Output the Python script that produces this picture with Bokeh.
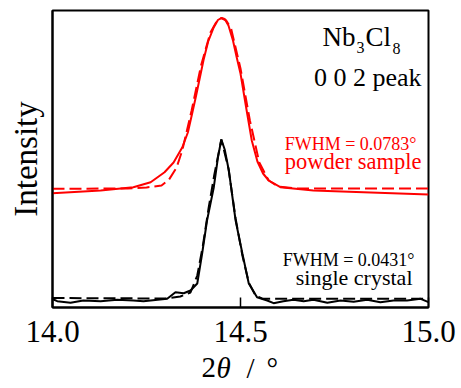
from bokeh.plotting import figure
from bokeh.models import Label, FixedTicker, PrintfTickFormatter, Range1d
from bokeh.layouts import column
from bokeh.core.properties import value
from bokeh.embed import file_html
from bokeh.resources import INLINE

# ---------------- data (2θ in degrees, intensity in arbitrary units) -------------
powder_tt = [14.000, 14.128, 14.215, 14.261, 14.298, 14.322, 14.345, 14.360, 14.372,
             14.382, 14.392, 14.402, 14.414, 14.429, 14.440, 14.449, 14.458, 14.468,
             14.480, 14.490, 14.500, 14.515, 14.530, 14.545, 14.560, 14.575, 14.606,
             14.694, 14.827, 15.000]
powder_obs = [114.3, 117.0, 120.3, 125.3, 135.3, 145.0, 160.0, 175.0, 195.0,
              212.0, 230.0, 248.0, 266.0, 280.3, 287.5, 289.5, 288.5, 282.0,
              267.0, 250.0, 234.0, 200.0, 167.0, 146.0, 134.0, 127.0, 120.3,
              117.0, 115.3, 113.0]

powder_fit_tt = [14.000, 14.200, 14.250, 14.290, 14.310, 14.330, 14.345, 14.370, 14.395,
                 14.420, 14.435, 14.449, 14.462, 14.475, 14.500, 14.525, 14.550,
                 14.575, 14.600, 14.650, 15.000]
powder_fit = [118.7, 119.0, 120.0, 122.0, 128.0, 140.0, 157.0, 197.0, 242.0,
              275.0, 285.0, 289.5, 287.0, 279.0, 239.0, 187.0, 145.0,
              127.0, 121.0, 119.0, 119.0]

crystal_tt = [14.000, 14.0125, 14.048, 14.082, 14.128, 14.172, 14.215, 14.242, 14.305,
              14.327, 14.349, 14.367, 14.385, 14.398, 14.411, 14.429, 14.440, 14.449,
              14.458, 14.469, 14.487, 14.505, 14.522, 14.544, 14.571, 14.588, 14.614,
              14.641, 14.668, 14.694, 14.731, 14.766, 14.801, 14.837, 14.872, 14.907,
              14.943, 14.979, 15.000]
crystal_obs = [8.5, 6.3, 4.7, 7.0, 6.3, 7.7, 7.0, 6.3, 8.7,
               15.3, 14.3, 17.0, 24.0, 54.0, 87.0, 120.3, 150.0, 168.0,
               158.0, 137.0, 87.0, 54.0, 24.0, 10.3, 7.0, 4.3, 6.3,
               7.7, 6.3, 7.7, 4.7, 7.0, 5.7, 7.7, 5.3, 7.0,
               7.0, 8.7, 5.3]

crystal_fit_tt = [14.000, 14.300, 14.340, 14.367, 14.385, 14.400, 14.415, 14.430, 14.449,
                  14.468, 14.487, 14.505, 14.522, 14.540, 14.560, 15.000]
crystal_fit = [9.5, 9.0, 11.0, 15.0, 32.0, 62.0, 99.0, 132.0, 168.0,
               139.0, 89.0, 52.0, 25.0, 12.0, 8.7, 8.7]

x_ticks = [14.0, 14.5, 15.0]

SERIF = "Liberation Serif"
RED = "#ff0000"

MAIN_H = 350
p = figure(width=457, height=MAIN_H,
           x_range=Range1d(14.0, 15.0), y_range=Range1d(0, 297),
           output_backend="svg", toolbar_location=None,
           min_border_left=52, min_border_right=29,
           min_border_top=10, min_border_bottom=MAIN_H - 307)
p.grid.visible = False
p.background_fill_color = "white"
p.border_fill_color = "white"
p.outline_line_color = "black"
p.outline_line_width = 2
p.outline_line_alpha = 1.0

# curves
p.line(powder_tt, powder_obs, line_color=RED, line_width=2)
p.line(powder_fit_tt, powder_fit, line_color=RED, line_width=2, line_dash="12 5")
p.line(crystal_tt, crystal_obs, line_color="black", line_width=2)
p.line(crystal_fit_tt, crystal_fit, line_color="black", line_width=2, line_dash="12 5")

# x axis
xa = p.xaxis[0]
xa.ticker = FixedTicker(ticks=x_ticks)
xa.formatter = PrintfTickFormatter(format="%.1f")
xa.major_tick_in = 10
xa.major_tick_out = 0
xa.major_tick_line_width = 1.5
xa.major_tick_line_color = "black"
xa.minor_tick_line_color = None
xa.axis_line_width = 2
xa.axis_line_color = "black"
xa.major_label_text_font = SERIF
xa.major_label_text_font_size = "31px"
xa.major_label_text_color = "black"
xa.major_label_standoff = 13

# y axis (label only)
ya = p.yaxis[0]
ya.ticker = FixedTicker(ticks=[])
ya.major_tick_in = 0
ya.major_tick_out = 0
ya.minor_tick_line_color = None
ya.major_label_standoff = 0
ya.axis_line_width = 2
ya.axis_line_color = "black"
ya.axis_label = "Intensity"
ya.axis_label_text_font = SERIF
ya.axis_label_text_font_size = "33px"
ya.axis_label_text_font_style = "normal"
ya.axis_label_text_color = "black"
ya.axis_label_standoff = 9

BASE_SHIFT = 0.36  # rendered glyphs sit this fraction of the font size below the anchor


def dx(px):
    return 14.0 + (px - 52) / 376.0


def dy(py):
    return 307 - py


def lab(text, px, py, size, color="black", align="left", style="normal"):
    anchor = py - BASE_SHIFT * size
    p.add_layout(Label(x=dx(px), y=dy(anchor), text=text, text_font=SERIF,
                       text_font_size=f"{size}px", text_color=color, text_align=align,
                       text_baseline="alphabetic", text_font_style=style))


# compound name with subscripts
lab("Nb", 322, 46, 27)
lab("3", 356, 53, 16)
lab("Cl", 365, 46, 27)
lab("8", 392, 54, 16)
lab("0 0 2 peak", 421, 86.7, 26, align="right")

lab("FWHM = 0.0783°", 416, 150, 18, color=RED, align="right")
lab("powder sample", 421, 169, 22.5, color=RED, align="right")
lab("FWHM = 0.0431°", 414, 265.7, 18, align="right")
lab("single crystal", 412, 285, 22, align="right")

# x axis title "2θ / °" in a strip below the plot (θ in italics);
# the strip's frame is aligned with the plot frame (page x 52..428)
TOP = MAIN_H
H = 388 - MAIN_H
t = figure(width=457, height=H, x_range=Range1d(52, 428), y_range=Range1d(0, H),
           x_axis_type=None, y_axis_type=None, output_backend="svg",
           toolbar_location=None, min_border=0, outline_line_color=None)
t.background_fill_color = "white"
t.border_fill_color = "white"
TSIZE = 29
base = TOP + H - (377.7 - BASE_SHIFT * TSIZE)


def tlab(text, px, style="normal"):
    t.text(x=[px], y=[base], text=[text], text_font=value(SERIF),
           text_font_size=f"{TSIZE}px", text_font_style=style, text_color="black",
           text_align="left", text_baseline="alphabetic")


tlab("2", 201)
tlab("θ", 216, style="italic")
tlab("/", 246)
tlab("°", 266)

layout = column(p, t, spacing=0)
open("out.html", "w").write(file_html(layout, INLINE))
